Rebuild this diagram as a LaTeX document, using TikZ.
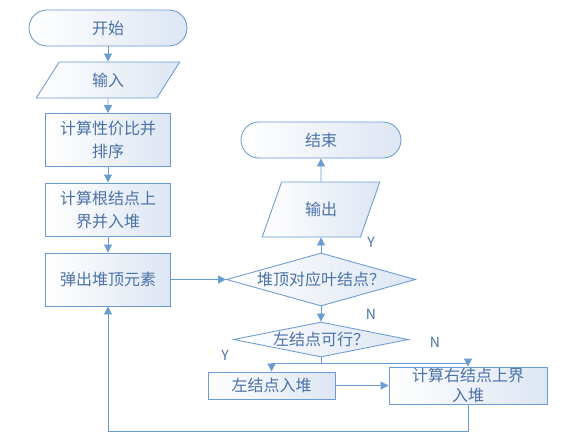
\documentclass[tikz,border=0pt]{standalone}
\usepackage{fontspec}
\setmainfont{Noto Sans CJK SC}
\usetikzlibrary{shapes.geometric,arrows.meta}
\definecolor{linec}{HTML}{6A9BD3}
\definecolor{textc}{HTML}{4A72A8}
\definecolor{boxfill}{HTML}{DDE6F3}
\begin{document}
\begin{tikzpicture}[x=1pt,y=1pt,line width=.3mm,
    base/.style={draw=linec,text=textc,left color=white,right color=boxfill,
      inner sep=0pt,align=center,font=\fontsize{16}{23}\selectfont},
    term/.style={base,rectangle,rounded corners=18pt,minimum width=158pt,minimum height=36pt},
    proc/.style={base,rectangle,minimum width=125pt,minimum height=53pt},
    io/.style={base,trapezium,trapezium stretches=true,
      trapezium left angle=63,trapezium right angle=117},
    test/.style={base,diamond},
    yn/.style={text=textc,font=\fontsize{14}{14}\selectfont},
    arr/.style={draw=linec,-{Triangle[length=8pt,width=8pt]}}]
  \useasboundingbox (0,0) rectangle (563,-439);
  \pgfmathsetmacro{\colL}{108}
  \pgfmathsetmacro{\colR}{321}

  % left column
  \node[term] (start) at (\colL,-28) {开始};
  \node[io,minimum width=144pt,minimum height=36pt] (in) at (\colL,-80) {输入};
  \node[proc] (sort) at (\colL,-140) {计算性价比并\\排序};
  \node[proc] (root) at (\colL,-209.5) {计算根结点上\\界并入堆};
  \node[proc] (pop) at (\colL,-279.5) {弹出堆顶元素};

  % right column
  \node[term,minimum width=160pt] (stop) at (\colR,-140) {结束};
  \node[io,minimum width=118pt,minimum height=55pt,trapezium left angle=62,
    trapezium right angle=118] (out) at (\colR,-209.5) {输出};
  \node[test,aspect=3.6,minimum width=189pt,minimum height=53pt] (leaf) at (\colR,-279.5) {堆顶对应叶结点？};
  \node[test,aspect=5,minimum width=175pt,minimum height=35pt] (left) at (\colR,-339.5) {左结点可行？};
  \node[proc,minimum width=127pt,minimum height=27pt] (lpush) at (271.5,-385.5) {左结点入堆};
  \node[proc,minimum width=158pt,minimum height=37pt,font=\fontsize{16}{20}\selectfont]
    (rpush) at (468,-385.5) {计算右结点上界\\入堆};

  \coordinate (split) at (\colR,-363);
  \coordinate (back) at (\colL,-431);

  \node[yn] (y1) at (371,-242) {Y};
  \node[yn] (n1) at (371,-314) {N};
  \node[yn] (y2) at (225,-355) {Y};
  \node[yn] (n2) at (435,-342) {N};

  \draw[arr] (start) -- (in);
  \draw[arr] (in) -- (sort);
  \draw[arr] (sort) -- (root);
  \draw[arr] (root) -- (pop);
  \draw[arr] (pop) -- (leaf);
  \draw[arr] (leaf) -- (out);
  \draw[arr] (out) -- (stop);
  \draw[arr] (leaf) -- (left);
  \draw[draw=linec] (left.south) -- (split);
  \draw[arr] (split) -| (lpush);
  \draw[arr] (split) -| (rpush);
  \draw[arr] (lpush) -- (rpush);
  \draw[arr] (rpush.south) |- (back) -- (pop);
\end{tikzpicture}
\end{document}
